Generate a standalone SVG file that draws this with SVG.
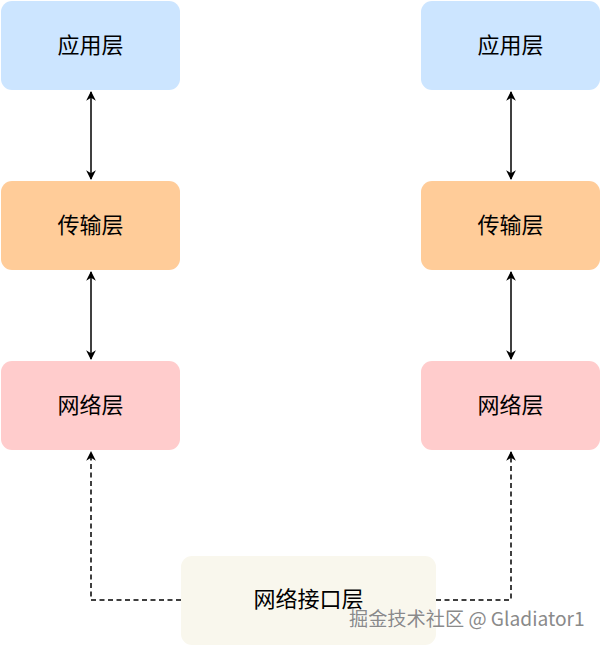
<svg xmlns="http://www.w3.org/2000/svg" width="602" height="647" viewBox="0 0 602 647">
<style>
.lbl{font-family:"Noto Sans CJK SC","Noto Sans",sans-serif;font-size:22px;fill:#000;text-anchor:middle;dominant-baseline:central}
.app{fill:#cce5ff}
.tr{fill:#ffcc99}
.nw{fill:#ffcccc}
.ni{fill:#f9f7ed}
.c{fill:none;stroke:#000;stroke-width:1.5}
.d{stroke-dasharray:5 3.5}
.wm{font-family:"Noto Sans CJK SC","Noto Sans",sans-serif;font-size:19.2px;fill:#8a8a8a;stroke:#fff;stroke-width:0.6;paint-order:stroke}
</style>
<defs>
<marker id="a" viewBox="0 0 10 10" refX="9" refY="5" markerWidth="6.5" markerHeight="6.5" orient="auto-start-reverse">
<path d="M0,0 L10,5 L0,10 L3,5 z" fill="#000"/>
</marker>
</defs>
<rect width="602" height="647" fill="#fff"/>
<g id="connectors">
<line class="c" x1="91" y1="92" x2="91" y2="179" marker-start="url(#a)" marker-end="url(#a)"/>
<line class="c" x1="91" y1="272" x2="91" y2="359" marker-start="url(#a)" marker-end="url(#a)"/>
<line class="c" x1="511" y1="92" x2="511" y2="179" marker-start="url(#a)" marker-end="url(#a)"/>
<line class="c" x1="511" y1="272" x2="511" y2="359" marker-start="url(#a)" marker-end="url(#a)"/>
<polyline class="c d" points="181,600 91,600 91,452" marker-end="url(#a)"/>
<polyline class="c d" points="436,600 511,600 511,452" marker-end="url(#a)"/>
</g>
<g id="app-left"><rect class="app" x="1" y="1" width="179" height="89" rx="11"/><text class="lbl" x="90.5" y="42.5">应用层</text></g>
<g id="transport-left"><rect class="tr" x="1" y="181" width="179" height="89" rx="11"/><text class="lbl" x="90.5" y="222.5">传输层</text></g>
<g id="network-left"><rect class="nw" x="1" y="361" width="179" height="89" rx="11"/><text class="lbl" x="90.5" y="402.5">网络层</text></g>
<g id="app-right"><rect class="app" x="421" y="1" width="179" height="89" rx="11"/><text class="lbl" x="510.5" y="42.5">应用层</text></g>
<g id="transport-right"><rect class="tr" x="421" y="181" width="179" height="89" rx="11"/><text class="lbl" x="510.5" y="222.5">传输层</text></g>
<g id="network-right"><rect class="nw" x="421" y="361" width="179" height="89" rx="11"/><text class="lbl" x="510.5" y="402.5">网络层</text></g>
<g id="netif"><rect class="ni" x="181" y="556" width="255" height="89" rx="11"/><text class="lbl" x="308.5" y="596.5">网络接口层</text></g>
<text class="wm" x="349" y="626">掘金技术社区 @ Gladiator1</text>
</svg>
